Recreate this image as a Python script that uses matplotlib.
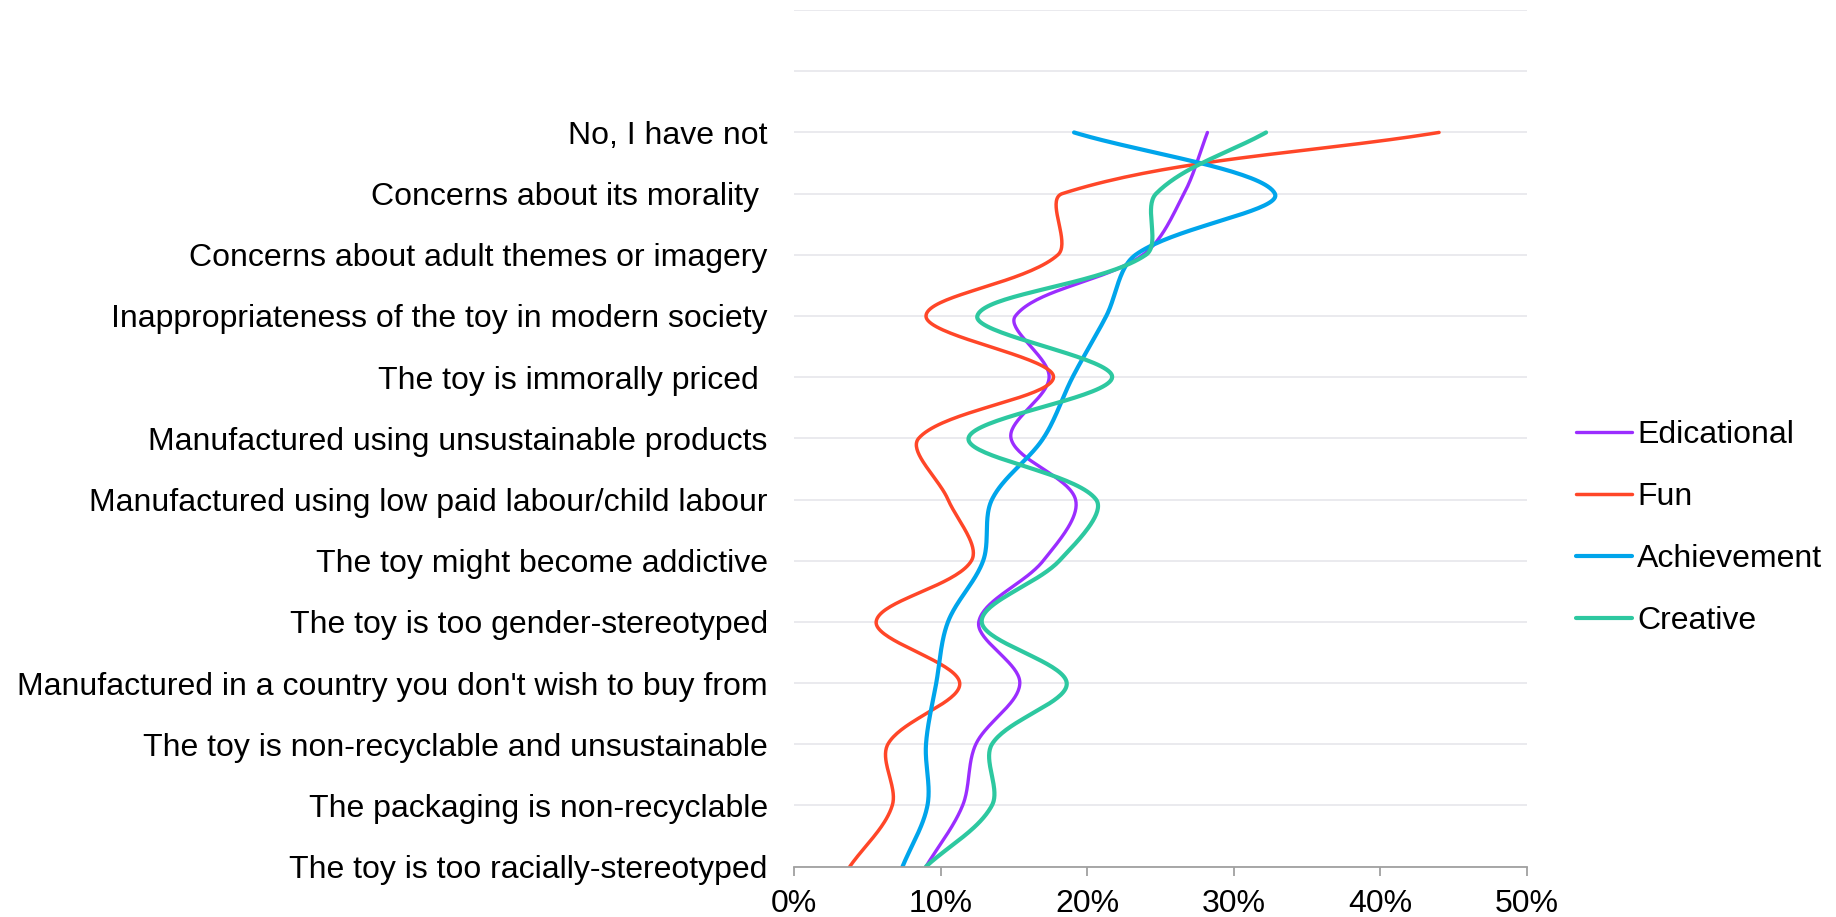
import numpy as np
import matplotlib.pyplot as plt
from matplotlib.ticker import FuncFormatter

plt.rcParams['font.family'] = ['Liberation Sans', 'DejaVu Sans']

# categories listed bottom to top
categories = [
    "The toy is too racially-stereotyped",
    "The packaging is non-recyclable",
    "The toy is non-recyclable and unsustainable",
    "Manufactured in a country you don't wish to buy from",
    "The toy is too gender-stereotyped",
    "The toy might become addictive",
    "Manufactured using low paid labour/child labour",
    "Manufactured using unsustainable products",
    "The toy is immorally priced ",
    "Inappropriateness of the toy in modern society",
    "Concerns about adult themes or imagery",
    "Concerns about its morality ",
    "No, I have not",
]

# percentages per category
edicational = [9.0, 11.5, 12.4, 15.4, 12.6, 17.0, 19.2, 14.8, 17.4, 15.1, 23.8, 26.6, 28.2]
fun = [3.8, 6.7, 6.4, 11.3, 5.6, 12.1, 10.5, 8.5, 17.7, 9.0, 18.0, 18.3, 44.0]
achievement = [7.4, 9.1, 9.0, 9.7, 10.5, 12.9, 13.5, 17.0, 19.0, 21.3, 23.3, 32.8, 19.1]
creative = [9.0, 13.5, 13.5, 18.6, 12.8, 18.1, 20.6, 11.9, 21.7, 12.5, 24.0, 24.7, 32.2]

series = [
    ("Edicational", edicational, "#9B2DFF", 2.4),
    ("Fun", fun, "#FF4628", 2.5),
    ("Achievement", achievement, "#00A5EB", 3.0),
    ("Creative", creative, "#2DC8A0", 3.0),
]

FONT = 23


def smooth(ax, xs, ys, n=40):
    # bezier through the points in screen space; handle lengths follow
    # the neighbouring segment lengths so long jumps don't overshoot
    p = ax.transData.transform(np.column_stack([xs, ys]))
    m = len(p)
    cin = p.copy()
    cout = p.copy()
    for i in range(m):
        prev = p[max(i - 1, 0)]
        nxt = p[min(i + 1, m - 1)]
        tan = nxt - prev
        l_in = np.hypot(*(p[i] - prev))
        l_out = np.hypot(*(nxt - p[i]))
        tot = l_in + l_out
        if tot == 0:
            continue
        cin[i] = p[i] - tan * l_in / tot / 3
        cout[i] = p[i] + tan * l_out / tot / 3
    t = np.linspace(0, 1, n)[:, None]
    parts = []
    for i in range(m - 1):
        p1, c1, c2, p2 = p[i], cout[i], cin[i + 1], p[i + 1]
        seg = ((1 - t) ** 3 * p1 + 3 * (1 - t) ** 2 * t * c1
               + 3 * (1 - t) * t ** 2 * c2 + t ** 3 * p2)
        parts.append(seg if i == 0 else seg[1:])
    curve = ax.transData.inverted().transform(np.vstack(parts))
    return curve[:, 0], curve[:, 1]


fig, ax = plt.subplots(figsize=(18.36, 9.17), dpi=100)
fig.subplots_adjust(left=0.4325, right=0.8317, top=0.989, bottom=0.055)

npos = len(categories) + 2
ax.set_xlim(0, 50)
ax.set_ylim(0, npos - 1)

ypos = np.arange(len(categories))
for name, vals, color, lw in series:
    sx, sy = smooth(ax, vals, ypos)
    ax.plot(sx, sy, color=color, lw=lw, label=name, solid_capstyle='round')

ax.set_yticks(np.arange(npos))
ax.set_yticklabels(categories + ["", ""])
ax.yaxis.grid(True, color="#E4E4EA", lw=1.1)
ax.set_axisbelow(True)
ax.tick_params(axis='y', length=0, pad=19, labelsize=FONT, colors='black')

ax.set_xticks(np.arange(0, 51, 10))
ax.xaxis.set_major_formatter(FuncFormatter(lambda v, _: f"{v:.0f}%"))
ax.tick_params(axis='x', length=6.5, width=1.3, color="#A0A0A0",
               pad=10, labelsize=FONT, labelcolor='black')

for s in ['top', 'right', 'left']:
    ax.spines[s].set_visible(False)
ax.spines['bottom'].set_color("#A0A0A0")
ax.spines['bottom'].set_linewidth(1.3)

ax.legend(loc='center left', bbox_to_anchor=(0.8585, 0.424),
          bbox_transform=fig.transFigure, frameon=False, fontsize=FONT,
          handlelength=1.75, handletextpad=0.15, labelspacing=1.0,
          borderpad=0, borderaxespad=0)

fig.savefig("out.png", dpi=100)
